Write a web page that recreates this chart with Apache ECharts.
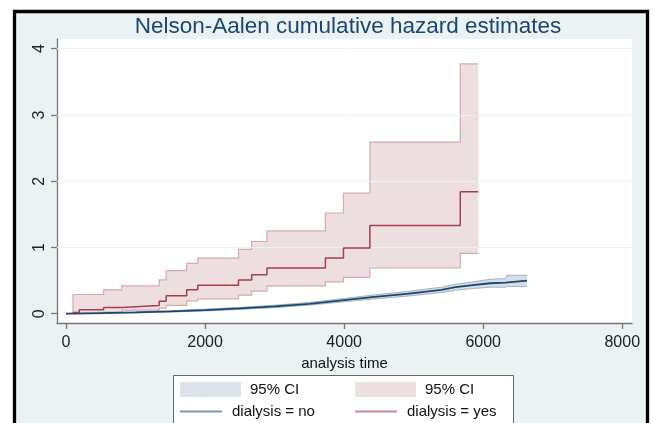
<!DOCTYPE html>
<html>
<head>
<meta charset="utf-8">
<script src="https://cdn.jsdelivr.net/npm/echarts@6/dist/echarts.min.js"></script>
<style>html,body{margin:0;padding:0;background:#fff}#c{width:654px;height:423px}</style>
</head>
<body>
<div id="c"></div>
<script>
// ---- data ----
const titleText = 'Nelson-Aalen cumulative hazard estimates';
const xTicks = [0, 2000, 4000, 6000, 8000];
const yTicks = [0, 1, 2, 3, 4];
const gridLines = [1, 2, 3, 4];

// dialysis = yes (step function)
const redT   = [100, 190, 540, 800, 1340, 1440, 1735, 1895, 2480, 2670, 2890, 3730, 3990, 4370, 5670, 5930];
const redEst = [0.02, 0.06, 0.095, 0.125, 0.19, 0.27, 0.36, 0.43, 0.51, 0.59, 0.69, 0.84, 0.99, 1.33, 1.84, 1.84];
const redLo  = [0.00, 0.00, 0.025, 0.055, 0.085, 0.125, 0.195, 0.225, 0.28, 0.34, 0.42, 0.48, 0.55, 0.69, 0.91, 0.91];
const redHi  = [0.29, 0.29, 0.36, 0.42, 0.51, 0.65, 0.76, 0.84, 0.97, 1.09, 1.25, 1.52, 1.82, 2.59, 3.77, 3.77];

// dialysis = no
const blueT   = [0, 500, 1000, 1500, 2000, 2500, 3000, 3500, 4000, 4400, 4900, 5400, 5600, 5850, 6100, 6320, 6340, 6630];
const blueEst = [0, 0.01, 0.02, 0.035, 0.055, 0.08, 0.11, 0.15, 0.205, 0.25, 0.30, 0.36, 0.40, 0.43, 0.46, 0.47, 0.50, 0.50];
const blueLo  = [0, 0.005, 0.013, 0.025, 0.042, 0.065, 0.092, 0.13, 0.18, 0.22, 0.265, 0.32, 0.355, 0.38, 0.40, 0.40, 0.41, 0.41];
const blueHi  = [0, 0.015, 0.027, 0.045, 0.068, 0.095, 0.128, 0.17, 0.23, 0.28, 0.335, 0.40, 0.445, 0.48, 0.52, 0.53, 0.58, 0.58];

const legendLabels = ['95% CI', '95% CI', 'dialysis = no', 'dialysis = yes'];

// ---- build ----
const pairs = (t, v) => t.map((x, i) => [x, v[i]]);

const FONT = '"Liberation Sans", Arial, sans-serif';
const chart = echarts.init(document.getElementById('c'), null, {renderer: 'canvas'});

const blueFill = '#d5dde6', blueEdge = '#a3b3c4', blueLine = '#1a476f';
const redFill = '#eddfe0', redEdge = '#d8a9ae', redLine = '#a83e49';

// band polygon drawn through the axes' own coordinate conversion
function bandRenderer(T, lo, hi, step, fill, edge, edgeW) {
  return function (params, api) {
    const path = (vals) => {
      const pts = [];
      for (let i = 0; i < T.length; i++) {
        if (step && i > 0) pts.push(api.coord([T[i], vals[i - 1]]));
        pts.push(api.coord([T[i], vals[i]]));
      }
      return pts;
    };
    const up = path(hi), dn = path(lo);
    const poly = up.concat(dn.slice().reverse());
    return {
      type: 'group',
      children: [
        {type: 'polygon', shape: {points: poly}, style: {fill: fill, stroke: null}},
        {type: 'polyline', shape: {points: up}, style: {fill: null, stroke: edge, lineWidth: edgeW}},
        {type: 'polyline', shape: {points: dn}, style: {fill: null, stroke: edge, lineWidth: edgeW}},
        {type: 'polyline', shape: {points: [up[0], dn[0]]}, style: {fill: null, stroke: edge, lineWidth: edgeW}}
      ]
    };
  };
}

chart.setOption({
  backgroundColor: '#ffffff',
  animation: false,
  title: {
    text: titleText, left: 343, top: 10, textAlign: 'center',
    textStyle: {fontFamily: FONT, fontSize: 22.5, fontWeight: 'normal', color: '#1a476f'}
  },
  grid: {left: 57, right: 22, top: 39, bottom: 100, show: true, backgroundColor: '#ffffff', borderWidth: 0, containLabel: false},
  xAxis: {
    type: 'value', min: -130, max: 8140,
    name: 'analysis time', nameLocation: 'middle', nameGap: 24,
    nameTextStyle: {fontFamily: FONT, fontSize: 15, color: '#111'},
    axisLine: {show: true, onZero: false, lineStyle: {color: '#777', width: 1.3}},
    axisTick: {show: true, length: 6, customValues: xTicks, lineStyle: {color: '#777', width: 1.3}},
    axisLabel: {customValues: xTicks, margin: 12, fontFamily: FONT, fontSize: 16, color: '#222',
                formatter: (v) => String(v)},
    splitLine: {show: false}
  },
  yAxis: {
    type: 'value', min: -0.14, max: 4.146,
    axisLine: {show: true, onZero: false, lineStyle: {color: '#777', width: 1.3}},
    axisTick: {show: true, length: 6, customValues: yTicks, lineStyle: {color: '#777', width: 1.3}},
    axisLabel: {customValues: yTicks, rotate: 90, margin: 9, fontFamily: FONT, fontSize: 16, color: '#222',
                formatter: (v) => String(v)},
    splitLine: {show: false}
  },
  graphic: [
    {type: 'rect', z: -100, shape: {x: 14.5, y: 11.5, width: 633, height: 430}, style: {fill: '#eaf2f3', stroke: '#000', lineWidth: 3.3}},
    {type: 'group', z: 100, children: [
      {type: 'rect', shape: {x: 173.5, y: 375.5, width: 340, height: 60}, style: {fill: '#fff', stroke: '#666', lineWidth: 1}},
      {type: 'rect', shape: {x: 180, y: 382, width: 61, height: 15}, style: {fill: '#dde3ea'}},
      {type: 'text', x: 250, y: 389.5, style: {text: legendLabels[0], fontFamily: FONT, fontSize: 15, fill: '#111', verticalAlign: 'middle'}},
      {type: 'rect', shape: {x: 355, y: 382, width: 61, height: 15}, style: {fill: '#eedfe0'}},
      {type: 'text', x: 425, y: 389.5, style: {text: legendLabels[1], fontFamily: FONT, fontSize: 15, fill: '#111', verticalAlign: 'middle'}},
      {type: 'line', shape: {x1: 180, y1: 411.5, x2: 222, y2: 411.5}, style: {stroke: '#7f95ac', lineWidth: 2}},
      {type: 'text', x: 232, y: 411.5, style: {text: legendLabels[2], fontFamily: FONT, fontSize: 15, fill: '#111', verticalAlign: 'middle'}},
      {type: 'line', shape: {x1: 355, y1: 411.5, x2: 397, y2: 411.5}, style: {stroke: '#c98a91', lineWidth: 2}},
      {type: 'text', x: 407, y: 411.5, style: {text: legendLabels[3], fontFamily: FONT, fontSize: 15, fill: '#111', verticalAlign: 'middle'}}
    ]}
  ],
  series: [
    {type: 'line', name: 'grid', z: 1, data: [[0, 0]], symbol: 'none', lineStyle: {opacity: 0}, silent: true,
     markLine: {silent: true, symbol: ['none', 'none'], label: {show: false},
       lineStyle: {color: '#eaf2f3', width: 1, type: 'solid'}, data: gridLines.map(v => ({yAxis: v}))}},
    {type: 'custom', name: 'blueCI', z: 2, silent: true, data: [[0, 0]], clip: true,
     renderItem: bandRenderer(blueT, blueLo, blueHi, false, blueFill, blueEdge, 1)},
    {type: 'custom', name: 'redCI', z: 2, silent: true, data: [[0, 0]], clip: true,
     renderItem: bandRenderer(redT, redLo, redHi, true, redFill, redEdge, 1.2)},
    {type: 'line', name: 'dialysis = no', z: 5, data: pairs(blueT, blueEst), symbol: 'none',
     lineStyle: {color: blueLine, width: 1.8}},
    {type: 'line', name: 'dialysis = yes', z: 5, step: 'end', data: pairs(redT, redEst), symbol: 'none',
     lineStyle: {color: redLine, width: 1.5}}
  ]
});
</script>
</body>
</html>
